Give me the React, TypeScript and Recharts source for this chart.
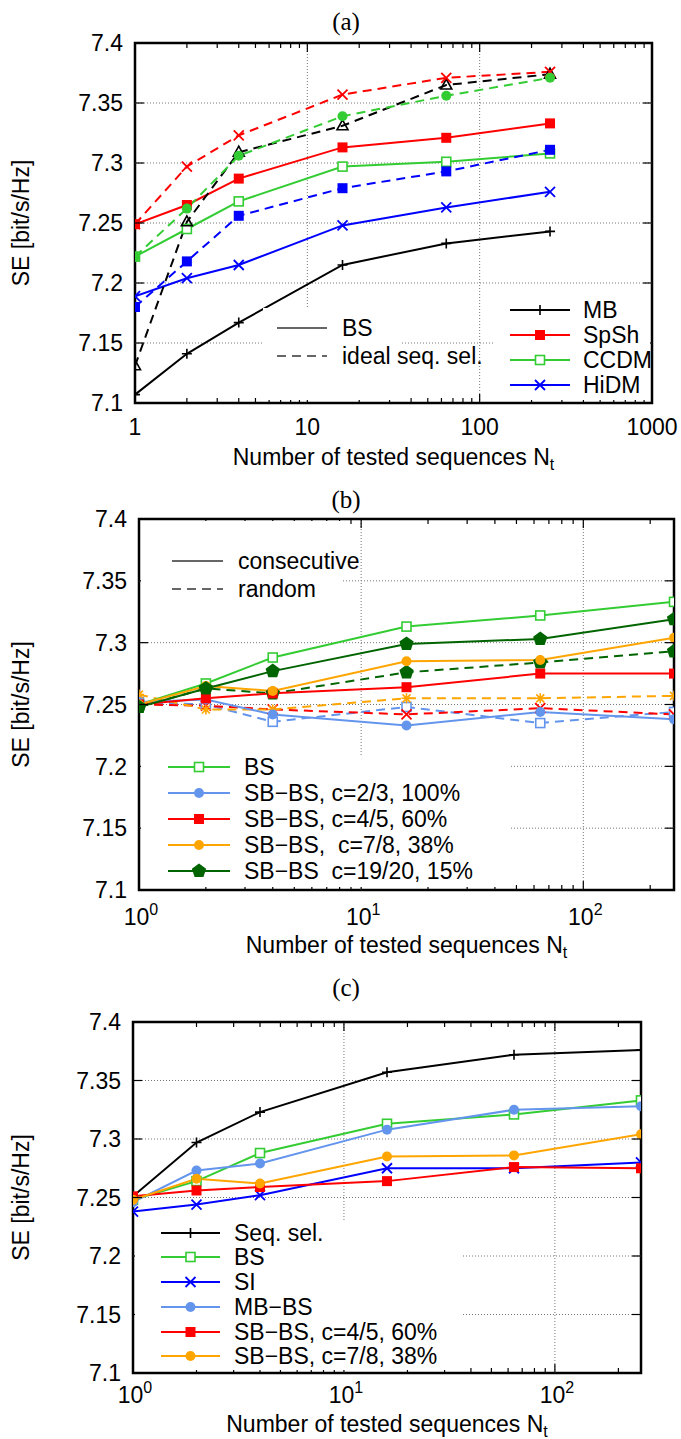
import React from 'react'
import { LineChart, Line, XAxis, YAxis, ReferenceLine } from 'recharts'

const W = 681
const SANS = '"Liberation Sans", Arial, Helvetica, sans-serif'
const SERIF = '"Liberation Serif", "Times New Roman", serif'
const FS = 23

const BLACK = '#000000'
const RED = '#ff0000'
const GREEN = '#33cc33'
const BLUE = '#0000ff'
const CORNFLOWER = '#6495ed'
const ORANGE = '#ffa500'
const DARKGREEN = '#006400'
const GRAY = '#666666'

// shared axes
const nt = [1, 2, 4, 16, 64, 256]
const seTicks = [7.1, 7.15, 7.2, 7.25, 7.3, 7.35, 7.4]
const seGrid = [7.15, 7.2, 7.25, 7.3, 7.35]
const decadesA = [1, 10, 100, 1000]
const minorA = [2, 3, 4, 5, 6, 7, 8, 9, 20, 30, 40, 50, 60, 70, 80, 90, 200, 300, 400, 500, 600, 700, 800, 900]
const decadesBC = [1, 10, 100]
const minorBC = [2, 3, 4, 5, 6, 7, 8, 9, 20, 30, 40, 50, 60, 70, 80, 90, 200]

// (a) BS vs ideal sequence selection
const mbBs = [7.107, 7.141, 7.167, 7.215, 7.233, 7.243]
const spshBs = [7.249, 7.265, 7.287, 7.313, 7.321, 7.333]
const ccdmBs = [7.222, 7.245, 7.268, 7.297, 7.301, 7.308]
const hidmBs = [7.189, 7.204, 7.215, 7.248, 7.263, 7.276]
const mbSel = [7.131, 7.251, 7.309, 7.331, 7.365, 7.374]
const spshSel = [7.249, 7.297, 7.323, 7.357, 7.371, 7.376]
const ccdmSel = [7.222, 7.262, 7.306, 7.339, 7.356, 7.371]
const hidmSel = [7.18, 7.218, 7.256, 7.279, 7.293, 7.311]

// (b) consecutive vs random
const bsB = [7.25, 7.267, 7.288, 7.313, 7.322, 7.333]
const sb23Con = [7.252, 7.254, 7.242, 7.233, 7.244, 7.238]
const sb45Con = [7.25, 7.255, 7.259, 7.264, 7.275, 7.275]
const sb78Con = [7.25, 7.265, 7.261, 7.285, 7.286, 7.304]
const sb1920Con = [7.248, 7.263, 7.277, 7.299, 7.303, 7.319]
const sb23Rnd = [7.252, 7.25, 7.236, 7.248, 7.235, 7.244]
const sb45Rnd = [7.25, 7.249, 7.246, 7.242, 7.247, 7.242]
const sb78Rnd = [7.258, 7.246, 7.246, 7.255, 7.255, 7.257]
const sb1920Rnd = [7.248, 7.263, 7.259, 7.276, 7.284, 7.293]

// (c) comparison
const seqSel = [7.251, 7.297, 7.323, 7.357, 7.372, 7.376]
const bsC = [7.248, 7.264, 7.288, 7.313, 7.321, 7.333]
const si = [7.238, 7.244, 7.252, 7.275, 7.275, 7.28]
const mbBsC = [7.246, 7.273, 7.279, 7.308, 7.325, 7.328]
const sb45C = [7.251, 7.256, 7.259, 7.264, 7.276, 7.275]
const sb78C = [7.248, 7.266, 7.262, 7.285, 7.286, 7.304]

function Marker({ shape, x, y, color }: any) {
  const s = 5
  switch (shape) {
    case 'plus':
      return <path d={`M${x - s},${y}H${x + s}M${x},${y - s}V${y + s}`} stroke={color} strokeWidth={1.6} fill="none" />
    case 'cross':
      return <path d={`M${x - s},${y - s}L${x + s},${y + s}M${x - s},${y + s}L${x + s},${y - s}`} stroke={color} strokeWidth={1.8} fill="none" />
    case 'star':
      return (
        <path
          d={`M${x - s},${y}H${x + s}M${x},${y - s}V${y + s}M${x - 4},${y - 4}L${x + 4},${y + 4}M${x - 4},${y + 4}L${x + 4},${y - 4}`}
          stroke={color}
          strokeWidth={1.6}
          fill="none"
        />
      )
    case 'box':
      return <rect x={x - s} y={y - s} width={2 * s} height={2 * s} fill={color} />
    case 'openbox':
      return <rect x={x - 4.5} y={y - 4.5} width={9} height={9} fill="#fff" stroke={color} strokeWidth={1.6} />
    case 'triangle':
      return <path d={`M${x},${y - 6}L${x + 5.5},${y + 4}L${x - 5.5},${y + 4}Z`} fill="none" stroke={color} strokeWidth={1.6} />
    case 'dot':
      return <circle cx={x} cy={y} r={5} fill={color} />
    case 'pentagon': {
      const pts = [0, 1, 2, 3, 4]
        .map((k) => {
          const a = -Math.PI / 2 + (k * 2 * Math.PI) / 5
          return `${x + 7.5 * Math.cos(a)},${y + 7.5 * Math.sin(a)}`
        })
        .join(' ')
      return <polygon points={pts} fill={color} />
    }
    default:
      return null
  }
}

const seriesA = [
  { values: mbBs, color: BLACK, shape: 'plus' },
  { values: spshBs, color: RED, shape: 'box' },
  { values: ccdmBs, color: GREEN, shape: 'openbox' },
  { values: hidmBs, color: BLUE, shape: 'cross' },
  { values: mbSel, color: BLACK, shape: 'triangle', dashed: true },
  { values: spshSel, color: RED, shape: 'cross', dashed: true },
  { values: ccdmSel, color: GREEN, shape: 'dot', dashed: true },
  { values: hidmSel, color: BLUE, shape: 'box', dashed: true },
]

const seriesB = [
  { values: sb23Rnd, color: CORNFLOWER, shape: 'openbox', dashed: true },
  { values: sb45Rnd, color: RED, shape: 'cross', dashed: true },
  { values: sb78Rnd, color: ORANGE, shape: 'star', dashed: true },
  { values: sb1920Rnd, color: DARKGREEN, shape: 'pentagon', dashed: true },
  { values: bsB, color: GREEN, shape: 'openbox' },
  { values: sb23Con, color: CORNFLOWER, shape: 'dot' },
  { values: sb45Con, color: RED, shape: 'box' },
  { values: sb78Con, color: ORANGE, shape: 'dot' },
  { values: sb1920Con, color: DARKGREEN, shape: 'pentagon' },
]

const seriesC = [
  { values: seqSel, color: BLACK, shape: 'plus' },
  { values: bsC, color: GREEN, shape: 'openbox' },
  { values: si, color: BLUE, shape: 'cross' },
  { values: mbBsC, color: CORNFLOWER, shape: 'dot' },
  { values: sb45C, color: RED, shape: 'box' },
  { values: sb78C, color: ORANGE, shape: 'dot' },
]

const panels = [
  {
    id: 'a',
    title: '(a)',
    top: 0,
    height: 480,
    plot: { left: 135, right: 652, top: 43, bottom: 403 },
    domain: [1, 1000],
    majors: decadesA,
    minors: minorA,
    power: false,
    series: seriesA,
    titleY: 30,
    tickY: 32,
    xLabelY: 62,
    legends: [
      {
        box: [263, 308, 400, 400],
        rows: [328, 356],
        line: [277, 327],
        text: 342,
        entries: [
          { label: 'BS', color: GRAY },
          { label: 'ideal seq. sel.', color: GRAY, dashed: true },
        ],
      },
      {
        box: [495, 297, 650, 400],
        rows: [310, 335, 360, 385],
        line: [510, 570],
        text: 583,
        entries: [
          { label: 'MB', color: BLACK, shape: 'plus' },
          { label: 'SpSh', color: RED, shape: 'box' },
          { label: 'CCDM', color: GREEN, shape: 'openbox' },
          { label: 'HiDM', color: BLUE, shape: 'cross' },
        ],
      },
    ],
  },
  {
    id: 'b',
    title: '(b)',
    top: 480,
    height: 490,
    plot: { left: 139, right: 674, top: 39, bottom: 410 },
    domain: [1, 256],
    majors: decadesBC,
    minors: minorBC,
    power: true,
    series: seriesB,
    titleY: 28,
    tickY: 35,
    xLabelY: 63,
    legends: [
      {
        box: [141, 41, 342, 124],
        rows: [81, 109],
        line: [172, 223],
        text: 238,
        entries: [
          { label: 'consecutive', color: GRAY },
          { label: 'random', color: GRAY, dashed: true },
        ],
      },
      {
        box: [141, 275, 511, 407],
        rows: [287, 313, 339, 365, 391],
        line: [168, 230],
        text: 244,
        entries: [
          { label: 'BS', color: GREEN, shape: 'openbox' },
          { label: 'SB\u2212BS, c=2/3, 100%', color: CORNFLOWER, shape: 'dot' },
          { label: 'SB\u2212BS, c=4/5, 60%', color: RED, shape: 'box' },
          { label: 'SB\u2212BS,  c=7/8, 38%', color: ORANGE, shape: 'dot' },
          { label: 'SB\u2212BS  c=19/20, 15%', color: DARKGREEN, shape: 'pentagon' },
        ],
      },
    ],
  },
  {
    id: 'c',
    title: '(c)',
    top: 970,
    height: 469,
    plot: { left: 133, right: 641, top: 52, bottom: 403 },
    domain: [1, 256],
    majors: decadesBC,
    minors: minorBC,
    power: true,
    series: seriesC,
    titleY: 26,
    tickY: 30,
    xLabelY: 59,
    legends: [
      {
        box: [135, 250, 461, 400],
        rows: [263, 287, 312, 337, 362, 386],
        line: [161, 220],
        text: 234,
        entries: [
          { label: 'Seq. sel.', color: BLACK, shape: 'plus' },
          { label: 'BS', color: GREEN, shape: 'openbox' },
          { label: 'SI', color: BLUE, shape: 'cross' },
          { label: 'MB\u2212BS', color: CORNFLOWER, shape: 'dot' },
          { label: 'SB\u2212BS, c=4/5, 60%', color: RED, shape: 'box' },
          { label: 'SB\u2212BS, c=7/8, 38%', color: ORANGE, shape: 'dot' },
        ],
      },
    ],
  },
]

function Panel({ cfg }: any) {
  const { plot, height, majors, minors, domain, power } = cfg
  const xAxisH = height - plot.bottom
  const margin = { top: plot.top, right: W - plot.right, bottom: 0, left: 0 }

  const xTick = (p: any) => {
    const { x, y, payload } = p
    const v = payload.value
    const major = majors.includes(v)
    const len = major ? 9 : 5
    const exp = Math.round(Math.log10(v))
    return (
      <g>
        <line x1={x} y1={y} x2={x} y2={y - len} stroke="#000" strokeWidth={1.2} />
        <line x1={x} y1={plot.top} x2={x} y2={plot.top + len} stroke="#000" strokeWidth={1.2} />
        {major &&
          (power ? (
            <text x={x + 2} y={y + cfg.tickY} textAnchor="middle" fontSize={FS} fontFamily={SANS} fill="#000">
              10
              <tspan dy={-10} fontSize={16}>
                {exp}
              </tspan>
            </text>
          ) : (
            <text x={x} y={y + cfg.tickY} textAnchor="middle" fontSize={FS} fontFamily={SANS} fill="#000">
              {v}
            </text>
          ))}
      </g>
    )
  }

  const yTick = (p: any) => {
    const { x, y, payload } = p
    return (
      <g>
        <line x1={x} y1={y} x2={x + 9} y2={y} stroke="#000" strokeWidth={1.2} />
        <line x1={plot.right} y1={y} x2={plot.right - 9} y2={y} stroke="#000" strokeWidth={1.2} />
        <text x={x - 12} y={y} dy="0.36em" textAnchor="end" fontSize={FS} fontFamily={SANS} fill="#000">
          {payload.value}
        </text>
      </g>
    )
  }

  const cx = (plot.left + plot.right) / 2
  const cy = (plot.top + plot.bottom) / 2

  return (
    <div style={{ position: 'absolute', left: 0, top: cfg.top, width: W, height }}>
      <svg width={W} height={height} style={{ position: 'absolute', left: 0, top: 0 }}>
        <rect
          x={plot.left}
          y={plot.top}
          width={plot.right - plot.left}
          height={plot.bottom - plot.top}
          fill="none"
          stroke="#000"
          strokeWidth={2.5}
        />
      </svg>
      <div style={{ position: 'absolute', left: 0, top: 0 }}>
        <LineChart width={W} height={height} margin={margin}>
          <XAxis
            type="number"
            dataKey="x"
            scale="log"
            domain={domain}
            allowDataOverflow
            ticks={[...majors, ...minors]}
            interval={0}
            height={xAxisH}
            tickSize={0}
            tickMargin={0}
            axisLine={false}
            tickLine={false}
            tick={xTick}
          />
          <YAxis
            type="number"
            domain={[7.1, 7.4]}
            allowDataOverflow
            ticks={seTicks}
            interval={0}
            width={plot.left}
            tickSize={0}
            tickMargin={0}
            axisLine={false}
            tickLine={false}
            tick={yTick}
          />
          {majors
            .filter((v: number) => v > domain[0] && v < domain[1])
            .map((v: number) => (
              <ReferenceLine key={'gx' + v} x={v} stroke="#777" strokeWidth={1} strokeDasharray="1 2" />
            ))}
          {seGrid.map((v) => (
            <ReferenceLine key={'gy' + v} y={v} stroke="#777" strokeWidth={1} strokeDasharray="1 2" />
          ))}
          {cfg.series.map((s: any, i: number) => (
            <Line
              key={cfg.id + i}
              data={s.values.map((y: number, k: number) => ({ x: nt[k], y }))}
              dataKey="y"
              type="linear"
              stroke={s.color}
              strokeWidth={2}
              strokeDasharray={s.dashed ? '9 6' : undefined}
              isAnimationActive={false}
              activeDot={false}
              dot={(p: any) => <Marker key={p.index} shape={s.shape} x={p.cx} y={p.cy} color={s.color} />}
            />
          ))}
        </LineChart>
      </div>
      <svg width={W} height={height} style={{ position: 'absolute', left: 0, top: 0, overflow: 'visible' }}>
        <text x={346} y={cfg.titleY} textAnchor="middle" fontSize={25} fontFamily={SERIF} fill="#000">
          {cfg.title}
        </text>
        <text
          x={21}
          y={cy}
          dy="0.36em"
          textAnchor="middle"
          fontSize={FS}
          fontFamily={SANS}
          fill="#000"
          transform={`rotate(-90, 21, ${cy})`}
        >
          SE [bit/s/Hz]
        </text>
        <text x={cx} y={plot.bottom + cfg.xLabelY} textAnchor="middle" fontSize={FS} fontFamily={SANS} fill="#000">
          Number of tested sequences N
          <tspan dy={5} fontSize={16}>
            t
          </tspan>
        </text>
        {cfg.legends.map((lg: any, li: number) => (
          <g key={li}>
            <rect x={lg.box[0]} y={lg.box[1]} width={lg.box[2] - lg.box[0]} height={lg.box[3] - lg.box[1]} fill="#fff" />
            {lg.entries.map((e: any, ei: number) => {
              const y = lg.rows[ei]
              const mx = (lg.line[0] + lg.line[1]) / 2
              return (
                <g key={ei}>
                  <line
                    x1={lg.line[0]}
                    y1={y}
                    x2={lg.line[1]}
                    y2={y}
                    stroke={e.color}
                    strokeWidth={2}
                    strokeDasharray={e.dashed ? '9 6' : undefined}
                  />
                  {e.shape && <Marker shape={e.shape} x={mx} y={y} color={e.color} />}
                  <text
                    x={lg.text}
                    y={y}
                    dy="0.36em"
                    fontSize={FS}
                    fontFamily={SANS}
                    fill="#000"
                    style={{ whiteSpace: 'pre' }}
                  >
                    {e.label}
                  </text>
                </g>
              )
            })}
          </g>
        ))}
      </svg>
    </div>
  )
}

export default function App() {
  return (
    <div style={{ position: 'relative', width: W, height: 1439, background: '#fff' }}>
      <style>{'body{margin:0;background:#fff}'}</style>
      {panels.map((p) => (
        <Panel key={p.id} cfg={p} />
      ))}
    </div>
  )
}
